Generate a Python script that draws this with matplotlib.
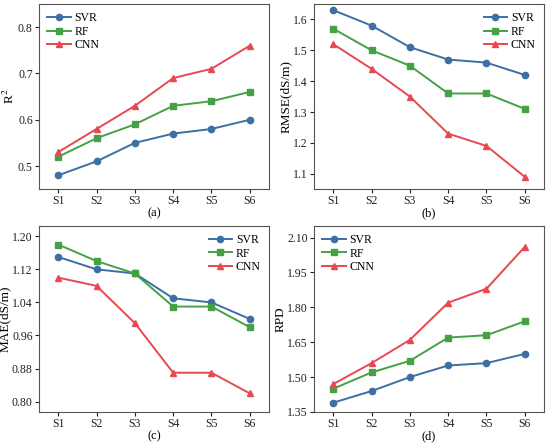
import matplotlib
matplotlib.use('Agg')
import matplotlib.pyplot as plt

plt.rcParams['font.family'] = ['Liberation Serif', 'DejaVu Serif']
plt.rcParams['mathtext.fontset'] = 'stix'

stations = ['S1', 'S2', 'S3', 'S4', 'S5', 'S6']
models = ['SVR', 'RF', 'CNN']

r2_svr = [0.48, 0.51, 0.55, 0.57, 0.58, 0.60]
r2_rf = [0.52, 0.56, 0.59, 0.63, 0.64, 0.66]
r2_cnn = [0.53, 0.58, 0.63, 0.69, 0.71, 0.76]

rmse_svr = [1.63, 1.58, 1.51, 1.47, 1.46, 1.42]
rmse_rf = [1.57, 1.50, 1.45, 1.36, 1.36, 1.31]
rmse_cnn = [1.52, 1.44, 1.35, 1.23, 1.19, 1.09]

mae_svr = [1.15, 1.12, 1.11, 1.05, 1.04, 1.00]
mae_rf = [1.18, 1.14, 1.11, 1.03, 1.03, 0.98]
mae_cnn = [1.10, 1.08, 0.99, 0.87, 0.87, 0.82]

rpd_svr = [1.39, 1.44, 1.50, 1.55, 1.56, 1.60]
rpd_rf = [1.45, 1.52, 1.57, 1.67, 1.68, 1.74]
rpd_cnn = [1.47, 1.56, 1.66, 1.82, 1.88, 2.06]

colors = ['#3d6fa3', '#46a046', '#e8484f']
markers = ['o', 's', '^']

panels = [
    ([r2_svr, r2_rf, r2_cnn], r'R$^2$', '(a)', (0.45, 0.85), [0.5, 0.6, 0.7, 0.8], '%.1f', 'upper left',
     [0.071, 0.573, 0.418, 0.418]),
    ([rmse_svr, rmse_rf, rmse_cnn], 'RMSE(dS/m)', '(b)', (1.05, 1.65), [1.1, 1.2, 1.3, 1.4, 1.5, 1.6], '%.1f', 'upper right',
     [0.571, 0.573, 0.418, 0.418]),
    ([mae_svr, mae_rf, mae_cnn], 'MAE(dS/m)', '(c)', (0.775, 1.225), [0.80, 0.88, 0.96, 1.04, 1.12, 1.20], '%.2f', 'upper right',
     [0.071, 0.070, 0.418, 0.420]),
    ([rpd_svr, rpd_rf, rpd_cnn], 'RPD', '(d)', (1.35, 2.15), [1.35, 1.50, 1.65, 1.80, 1.95, 2.10], '%.2f', 'upper left',
     [0.571, 0.070, 0.418, 0.420]),
]

fig = plt.figure(figsize=(5.5, 4.43), dpi=100)
x = list(range(1, 7))

for series, ylab, tag, ylim, yticks, fmt, loc, rect in panels:
    ax = fig.add_axes(rect)
    for vals, name, c, m in zip(series, models, colors, markers):
        ax.plot(x, vals, color=c, marker=m, markersize=4.5, linewidth=1.4, label=name)
    ax.set_xlim(0.5, 6.5)
    ax.set_ylim(*ylim)
    ax.set_xticks(x)
    ax.set_xticklabels(stations)
    ax.set_yticks(yticks)
    ax.set_yticklabels([fmt % v for v in yticks])
    ax.tick_params(labelsize=8.5, direction='out', length=3, width=0.8, pad=1.5, colors='#222222')
    ax.set_ylabel(ylab, fontsize=9.5, labelpad=0.5)
    ax.set_xlabel(tag, fontsize=9, labelpad=0)
    for s in ax.spines.values():
        s.set_color('#555555')
        s.set_linewidth(0.8)
    ax.legend(loc=loc, frameon=False, fontsize=8.5, handlelength=2.0,
              labelspacing=0.12, borderaxespad=0.3, handletextpad=0.3)

fig.savefig('out.png', dpi=100)
